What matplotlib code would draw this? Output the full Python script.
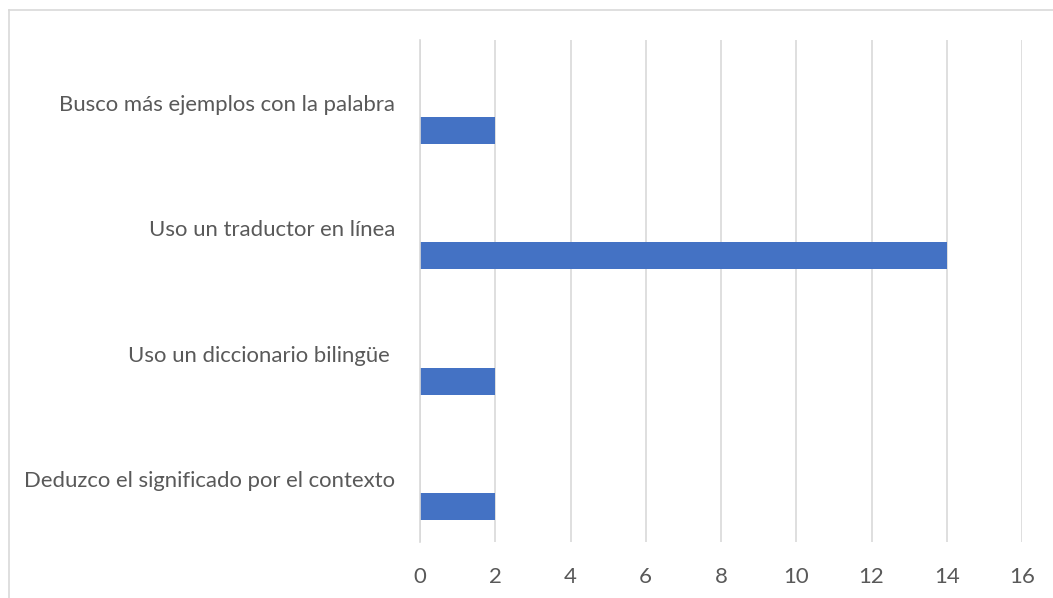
import matplotlib
matplotlib.use("Agg")
import matplotlib.pyplot as plt
from matplotlib.lines import Line2D

# Strategies for unknown words, listed bottom to top
categories = [
    "Deduzco el significado por el contexto",
    "Uso un diccionario bilingüe ",
    "Uso un traductor en línea",
    "Busco más ejemplos con la palabra",
]
counts = [2, 2, 14, 2]
x_ticks = [0, 2, 4, 6, 8, 10, 12, 14, 16]

bar_color = "#4472C4"
grid_color = "#D9D9D9"
text_color = "#595959"
plt.rcParams["font.family"] = ["Lato", "DejaVu Sans"]

fig = plt.figure(figsize=(10.53, 5.98), dpi=100)
ax = fig.add_axes([420 / 1053, 1 - 542 / 598, (1022 - 420) / 1053, (542 - 40) / 598])

# bars sit in the lower slot of each category band
offset = 0.221
height = 0.215
ypos = list(range(len(categories)))
ax.barh([y - offset for y in ypos], counts, height=height, color=bar_color, zorder=3)

ax.set_xlim(x_ticks[0], x_ticks[-1])
ax.set_ylim(-0.5, len(categories) - 0.5)
ax.set_xticks(x_ticks)
ax.set_xticklabels([str(t) for t in x_ticks])
ax.set_yticks(ypos)
ax.set_yticklabels(categories)

ax.xaxis.grid(True, color=grid_color, linewidth=1.2, zorder=0)
ax.set_axisbelow(True)
for side in ("top", "right", "bottom"):
    ax.spines[side].set_visible(False)
ax.spines["left"].set_color(grid_color)
ax.spines["left"].set_linewidth(1.2)
ax.spines["left"].set_zorder(4)

ax.tick_params(axis="both", length=0, colors=text_color, labelsize=15.9)
ax.tick_params(axis="x", pad=18)
ax.tick_params(axis="y", pad=18)

# chart frame
fig.add_artist(Line2D([9 / 1053, 9 / 1053], [0, 1 - 10 / 598], color=grid_color,
                      linewidth=1.2, transform=fig.transFigure))
fig.add_artist(Line2D([9 / 1053, 1], [1 - 10 / 598, 1 - 10 / 598], color=grid_color,
                      linewidth=1.2, transform=fig.transFigure))

fig.savefig("out.png", dpi=100)
